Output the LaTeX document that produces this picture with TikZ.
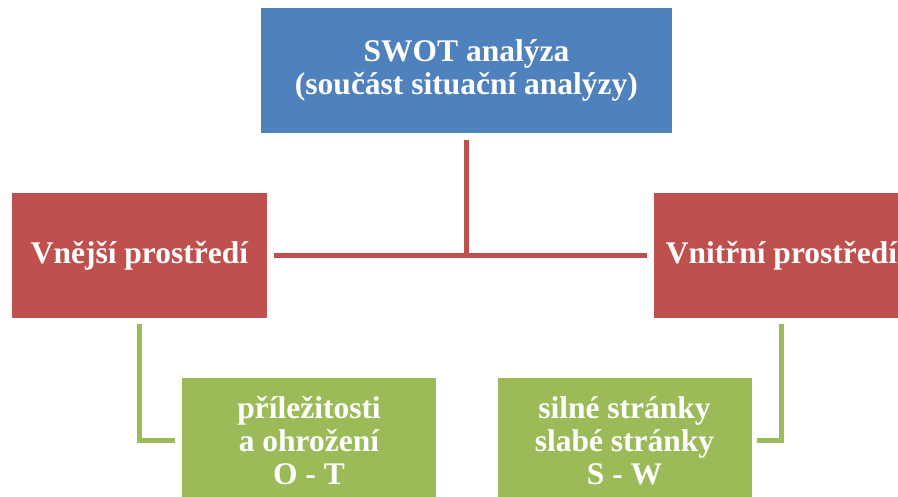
\documentclass[tikz,border=0pt]{standalone}
\usepackage{fontspec}
\setmainfont{Liberation Serif}
\usepackage{tikz}
\definecolor{swotblue}{RGB}{79, 129, 189}
\definecolor{swotred}{RGB}{192, 80, 77}
\definecolor{swotgreen}{RGB}{155, 187, 89}

\tikzset{
  box/.style={draw=white, line width=0.6, text=white, align=center, inner sep=0pt,
    font=\fontsize{31.5}{33}\selectfont\bfseries},
  redline/.style={draw=swotred, line width=4.5},
  greenline/.style={draw=swotgreen, line width=4.5}
}

\begin{document}
\begin{tikzpicture}[x=1pt, y=-1pt]

\useasboundingbox (0, 0) rectangle (898, 497);

\node[box, fill=swotblue, minimum width=412, minimum height=126] (swot) at (466.5, 70.5)
{\raisebox{-3pt}{SWOT analýza}\\\raisebox{-3pt}{(součást situační analýzy)}};

\node[box, fill=swotred, minimum width=256, minimum height=126] (vnejsi) at (139.5, 255.5)
{\raisebox{-2pt}{Vnější prostředí}};

\node[box, fill=swotred, minimum width=256, minimum height=126] (vnitrni) at (781.5, 255.5)
{\raisebox{-2pt}{Vnitřní prostředí}};

\node[box, fill=swotgreen, minimum width=255, minimum height=126] (prilez) at (309, 440.5)
{příležitosti\\a ohrožení\\O - T};

\node[box, fill=swotgreen, minimum width=255, minimum height=126] (stranky) at (624.5, 440.5)
{silné stránky\\slabé stránky\\S - W};

\draw[redline, shorten <=6pt, shorten >=6pt] (vnejsi.east) -- (vnitrni.west);
\draw[redline, shorten <=6pt] (swot.south) -- (swot.south |- vnejsi.east);

\draw[greenline, shorten <=5pt, shorten >=6pt] (vnejsi.south) |- (prilez.west);
\draw[greenline, shorten <=5pt, shorten >=5pt] (vnitrni.south) |- (stranky.east);

\end{tikzpicture}
\end{document}
